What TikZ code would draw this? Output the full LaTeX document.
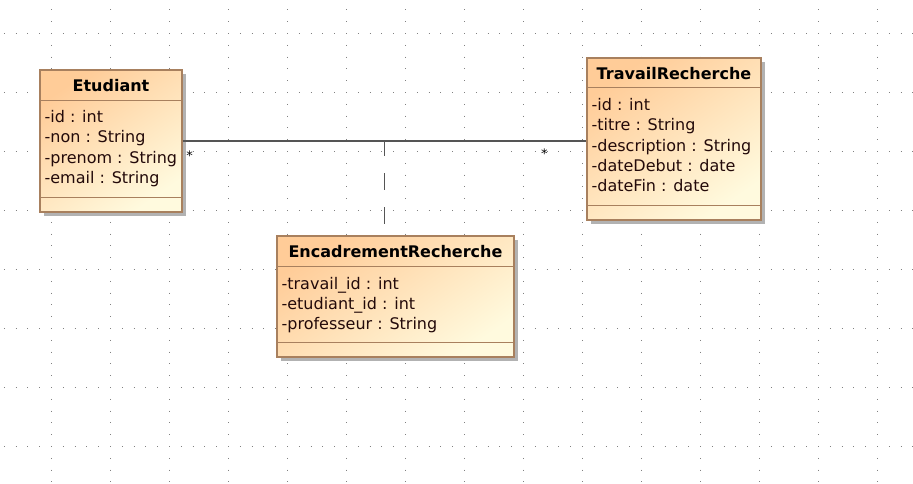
\documentclass[tikz,border=0pt]{standalone}
\usepackage{fontspec}
\setmainfont{DejaVu Sans}
\usetikzlibrary{calc,shadows,positioning}
\definecolor{umlorange}{RGB}{255,204,152}
\definecolor{umlcream}{RGB}{255,250,222}
\definecolor{umlborder}{RGB}{168,128,94}
\definecolor{umltext}{RGB}{35,10,10}
\definecolor{umlline}{RGB}{85,85,85}
\tikzset{
griddot/.style={black!50,line width=1pt,dash pattern=on 1pt off 10.8pt},
classbox/.style={draw=umlborder,line width=1.2pt,top color=umlorange,bottom color=umlcream,
  shading angle=35,inner sep=0pt,
  drop shadow={shadow xshift=4pt,shadow yshift=-4pt,fill=black!30,opacity=1}},
classline/.style={draw=umlborder,line width=1.2pt},
classtitle/.style={anchor=base,inner sep=0pt,font=\fontsize{16}{19}\selectfont\bfseries},
attr/.style={anchor=base west,inner sep=0pt,text=umltext,font=\fontsize{16}{19}\selectfont},
mult/.style={inner sep=0pt,font=\fontsize{13}{15}\selectfont},
assoc/.style={umlline,line width=1.3pt},
assocdash/.style={umlline,line width=1.3pt,dash pattern=on 17pt off 17pt,dash phase=2pt}}

\begin{document}
\begin{tikzpicture}[x=1pt,y=-1pt]
\useasboundingbox (0,0) rectangle (913,483);

% grille
\foreach \gx in {51,110,...,877}
	\draw[griddot] (\gx,9.4) -- (\gx,483);
\foreach \gy in {33,92,...,446}
	\draw[griddot] (3.8,\gy) -- (913,\gy);

% classes
\node[classbox,minimum width=142,minimum height=142] (etudiant) at (111,141) {};
\node[classbox,minimum width=174,minimum height=162] (travail) at (674,139) {};
\node[classbox,minimum width=237,minimum height=121] (encadrement) at (395.5,296.5) {};

\draw[classline] ($(etudiant.north west)+(0,31)$) -- ($(etudiant.north east)+(0,31)$);
\draw[classline] ($(etudiant.south west)+(0,-15)$) -- ($(etudiant.south east)+(0,-15)$);
\draw[classline] ($(travail.north west)+(0,30)$) -- ($(travail.north east)+(0,30)$);
\draw[classline] ($(travail.south west)+(0,-15)$) -- ($(travail.south east)+(0,-15)$);
\draw[classline] ($(encadrement.north west)+(0,31)$) -- ($(encadrement.north east)+(0,31)$);
\draw[classline] ($(encadrement.south west)+(0,-15)$) -- ($(encadrement.south east)+(0,-15)$);

\node[classtitle] (etudiant-t) at ($(etudiant.north)+(0,22)$) {Etudiant};
\node[classtitle] (travail-t) at ($(travail.north)+(0,22)$) {TravailRecherche};
\node[classtitle] (encadrement-t) at ($(encadrement.north)+(0,22)$) {EncadrementRecherche};

\foreach \txt [count=\i] in {-id : int,-non : String,-prenom : String,-email : String}
	\node[attr] (etudiant-a\i) at ($(etudiant.north west)+(5,{53+20.3*(\i-1)})$) {\txt};
\foreach \txt [count=\i] in {-id : int,-titre : String,-description : String,-dateDebut : date,-dateFin : date}
	\node[attr] (travail-a\i) at ($(travail.north west)+(5,{53+20.3*(\i-1)})$) {\txt};
\foreach \txt [count=\i] in {-travail\_id : int,-etudiant\_id : int,-professeur : String}
	\node[attr] (encadrement-a\i) at ($(encadrement.north west)+(5,{54+20*(\i-1)})$) {\txt};

% association
\draw[assoc] (etudiant.east) -- (etudiant.east -| travail.west) coordinate[pos=0.5] (assocmid);
\draw[assocdash] (assocmid) -- (assocmid |- encadrement.north);

\node[mult] (m-etudiant) at ($(etudiant.east)+(7,15)$) {*};
\node[mult] (m-travail) at ($(etudiant.east -| travail.west)+(-42,13)$) {*};
\end{tikzpicture}
\end{document}
